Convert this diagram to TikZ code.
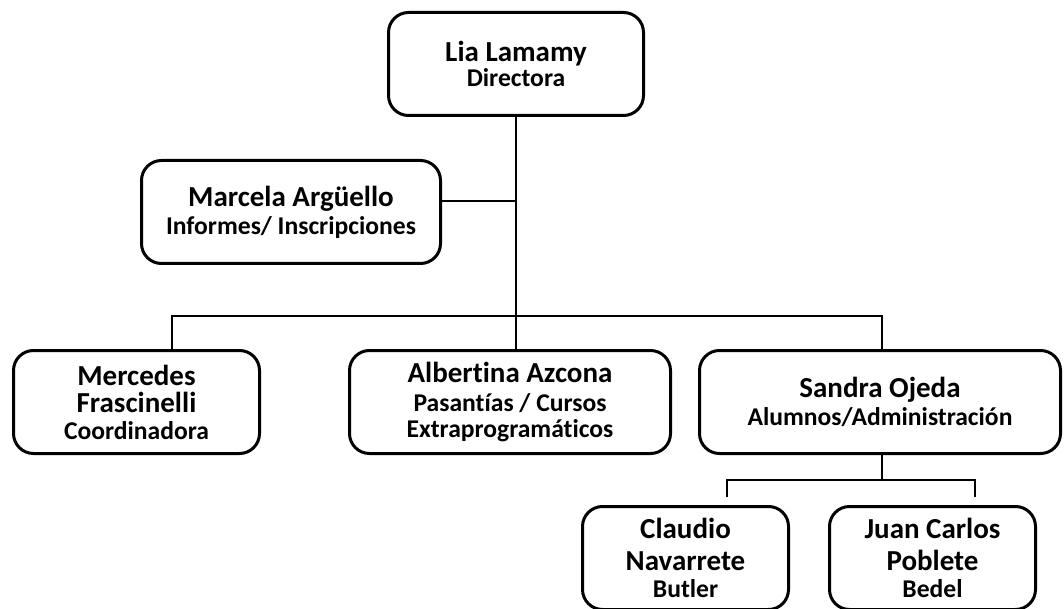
\documentclass[tikz,border=0pt]{standalone}
\usepackage{fontspec}
\setmainfont{Carlito}[Ligatures=NoCommon]
\usetikzlibrary{positioning}
\setlength{\lineskiplimit}{-100pt}
\newcommand{\who}[1]{{\fontsize{29}{27}\selectfont #1}}
\newcommand{\job}[1]{{\fontsize{25.6}{27}\selectfont #1}}
\tikzset{
  unitbox/.style={draw,line width=3pt,rounded corners=20pt,align=center,inner sep=0pt,minimum height=103pt,
    font=\bfseries\fontsize{29}{27}\selectfont},
  trunk/.style={line width=2.8pt},
  branch/.style={line width=1.6pt},
}

\begin{document}
\begin{tikzpicture}[x=1pt,y=-1pt]
  \useasboundingbox (0,0) rectangle (1064,609);
  \node[unitbox,minimum width=255pt] (lia) at (516,64) {\who{Lia Lamamy}\\[-2pt]\job{Directora}};
  \node[unitbox,minimum width=299pt] (marcela) at (291,212) {\who{Marcela Argüello}\\[1pt]\job{Informes/ Inscripciones}};
  \node[unitbox,minimum width=246pt] (mercedes) at (136.5,402) {\who{Mercedes}\\\who{Frascinelli}\\\job{Coordinadora}};
  \node[unitbox,minimum width=321pt] (albertina) at (510,402) {\who{Albertina Azcona}\\[2pt]\job{Pasantías / Cursos}\\[-1pt]\job{Extraprogramáticos}};
  \node[unitbox,minimum width=361pt,right=26pt of albertina] (sandra) {\who{Sandra Ojeda}\\[1pt]\job{Alumnos/Administración}};
  \node[unitbox,minimum width=206pt] (claudio) at (685.5,558) {\who{Claudio}\\[5pt]\who{Navarrete}\\\job{Butler}};
  \node[unitbox,minimum width=206pt,right=38pt of claudio] (juan) {\who{Juan Carlos}\\[5pt]\who{Poblete}\\\job{Bedel}};
  \coordinate (mj) at ([yshift=11pt]marcela.east);
  \coordinate (bl) at (172,316);
  \coordinate (br) at (882,316);
  \coordinate (sj) at (882,480);
  \coordinate (cl) at (727,480);
  \coordinate (cr) at (975,480);
  \draw[trunk] (lia.south) -- (lia.south |- albertina.north);
  \draw[branch] (mj) -- (mj -| lia.south);
  \draw[branch] (mercedes.north -| bl) -- (bl) -- (br) -- (sandra.north -| br);
  \draw[trunk] (sandra.south -| sj) -- (sj);
  \draw[branch] (cl) ++(0,17) -- (cl) -- (cr) -- ++(0,17);
\end{tikzpicture}
\end{document}
